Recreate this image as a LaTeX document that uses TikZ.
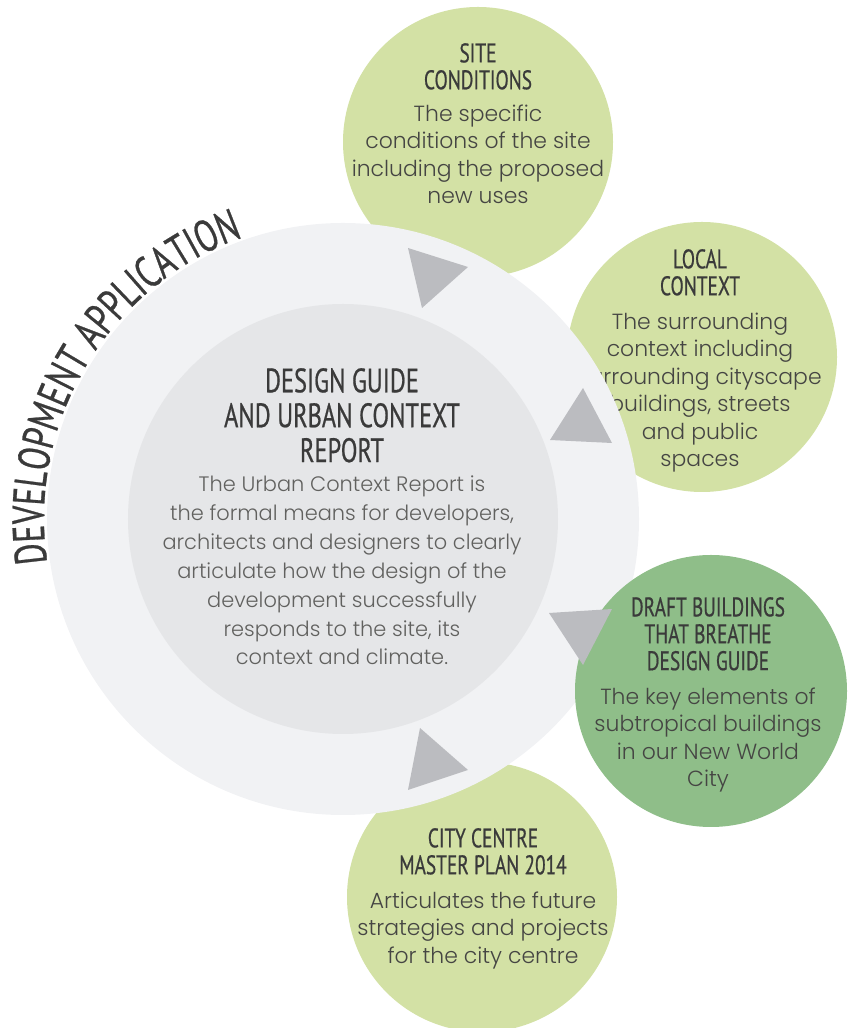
\documentclass[tikz,border=0pt]{standalone}
\usepackage{fontspec}
\setmainfont{Poppins}[UprightFont={* Light}]
\newfontfamily\condfont[FakeStretch=0.72,FakeBold=0.6]{PT Sans}
\usetikzlibrary{positioning,decorations.text}
\definecolor{leafgreen}{HTML}{D3E1A5}
\definecolor{deepgreen}{HTML}{8FBE89}
\definecolor{ringgray}{HTML}{F1F2F4}
\definecolor{coregray}{HTML}{E5E6E8}
\definecolor{arrowgray}{HTML}{BBBCC0}
\definecolor{headgray}{HTML}{3A3A3A}
\definecolor{bodygray}{HTML}{454543}
\begin{document}
\begin{tikzpicture}[x=1bp,y=1bp,node distance=17bp,
    bubble/.style={circle,fill=leafgreen,minimum size=270bp,inner sep=0pt},
    heading/.style={align=center,anchor=north,inner sep=0pt,text=headgray,
      font=\condfont\fontsize{27}{27}\selectfont},
    blurb/.style={align=center,inner sep=0pt,text=bodygray,
      font=\fontsize{22}{27.5}\selectfont},
    pointer/.style={fill=arrowgray}
  ]
  \useasboundingbox (0,0) rectangle (854,1028);

  % outer bubbles (behind the ring)
  \node[bubble] (site) at (478,886) {};
  \node[bubble] (local) at (702,671) {};
  \node[bubble] (city) at (482,131) {};

  \node[heading] (sitehead) at (478,985) {SITE\\CONDITIONS};
  \node[blurb,below=15bp of sitehead] (sitetext) {The specific\\conditions of the site\\including the proposed\\new uses};
  \node[heading] (localhead) at (700,779) {LOCAL\\CONTEXT};
  \node[blurb,below=of localhead] (localtext) {The surrounding\\context including\\surrounding cityscape\\buildings, streets\\and public\\spaces};
  \node[heading] (cityhead) at (483,200) {CITY CENTRE\\MASTER PLAN 2014};
  \node[blurb,below=of cityhead] (citytext) {Articulates the future\\strategies and projects\\for the city centre};

  % the ring and its core
  \node[circle,fill=ringgray,minimum size=592bp,inner sep=0pt] (ring) at (343,509) {};
  \node[circle,fill=coregray,minimum size=430bp,inner sep=0pt] (core) at (343,509) {};

  \node[heading,font=\condfont\fontsize{34}{35}\selectfont] (corehead) at (342,660) {DESIGN GUIDE\\AND URBAN CONTEXT\\REPORT};
  \node[blurb,below=13bp of corehead,text=bodygray!85,font=\fontsize{21}{29}\selectfont] (coretext)
    {The Urban Context Report is\\the formal means for developers,\\architects and designers to clearly\\articulate how the design of the\\development successfully\\responds to the site, its\\context and climate.};

  % draft guide sits on top of the ring
  \node[bubble,fill=deepgreen,minimum size=272bp] (draft) at (711,337) {};
  \node[heading] (drafthead) at (708,431) {DRAFT BUILDINGS\\THAT BREATHE\\DESIGN GUIDE};
  \node[blurb,below=of drafthead] (drafttext) {The key elements of\\subtropical buildings\\in our New World\\City};

  % pointers
  \fill[pointer] (408,780) -- (468,761) -- (422,720) -- cycle;
  \fill[pointer] (583,640) -- (550,588) -- (612,585) -- cycle;
  \fill[pointer] (549,415) -- (612,419) -- (583,363) -- cycle;
  \fill[pointer] (420,300) -- (468,258) -- (408,238) -- cycle;

  % curved title
  \path[decorate,decoration={text along path,text align=center,text color=headgray,
      text={|\condfont\fontsize{45}{45}\selectfont|DEVELOPMENT APPLICATION}}]
    (343,509) ++(194:299) arc[start angle=194,end angle=104,radius=299];
\end{tikzpicture}
\end{document}
